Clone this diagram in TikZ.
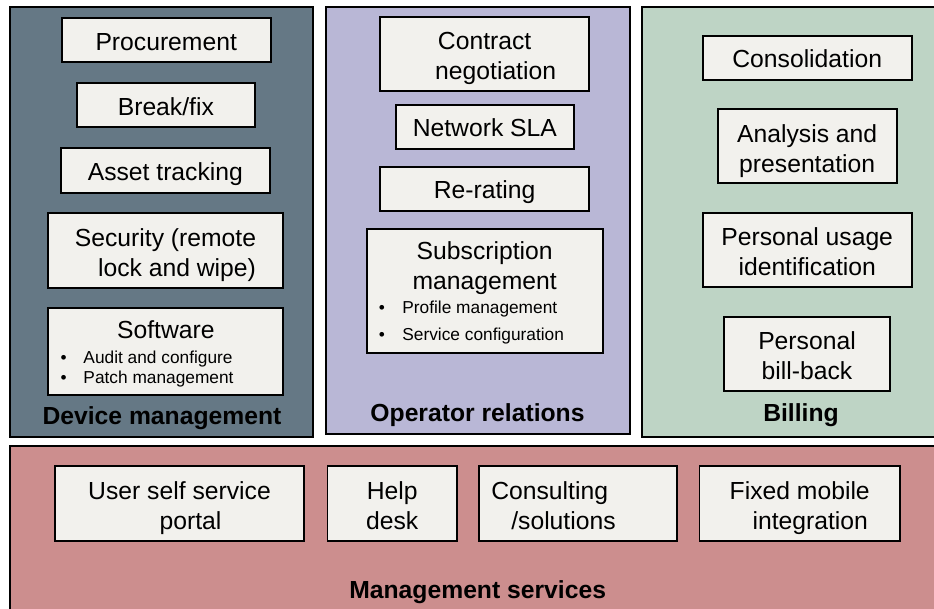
\documentclass[tikz,border=0pt]{standalone}
\usepackage{fontspec}
\setmainfont{Liberation Sans}
\definecolor{devcol}{HTML}{657885}
\definecolor{opcol}{HTML}{B9B7D6}
\definecolor{billcol}{HTML}{BED4C5}
\definecolor{mgmtcol}{HTML}{CC8E8E}
\definecolor{boxfill}{HTML}{F2F1ED}
\newcommand{\mybig}{\fontsize{24.7}{30}\selectfont}
\newcommand{\mysmall}{\fontsize{17.3}{20}\selectfont}
\newcommand{\mytop}{\rule{0pt}{28pt}}
\newcommand{\mybot}{\rule[-6pt]{0pt}{6pt}}
\begin{document}
\begin{tikzpicture}[x=1pt,y=-1pt,
  panel/.style={draw=black, line width=2pt, inner sep=0pt, rectangle},
  box/.style={draw=black, fill=boxfill, line width=1.8pt, inner sep=0pt, rectangle, align=center, font=\mybig},
  one/.style={text height=20pt, text depth=0pt},
  lbl/.style={font=\mybig\bfseries, anchor=base, inner sep=0pt},
  txt/.style={font=\mybig, inner sep=0pt, align=left},
  ttl/.style={font=\mybig, inner sep=0pt, anchor=base},
  bul/.style={font=\mysmall, inner sep=0pt, anchor=base west}]
\useasboundingbox (0,0) rectangle (934,609);
% panels
\node[panel, fill=devcol, minimum width=303pt, minimum height=429pt] (dev) at (161,222) {};
\node[panel, fill=opcol, minimum width=303.5pt, minimum height=426.5pt] (op) at (477.75,220.75) {};
\node[panel, fill=billcol, minimum width=298.5pt, minimum height=429.5pt] (bill) at (790.75,222.25) {};
\node[panel, fill=mgmtcol, minimum width=930.5pt, minimum height=169.5pt] (mgmt) at (474.75,530.25) {};
% device management
\node[box, one, minimum width=209pt, minimum height=44pt] (proc) at (166.2,40.3) {Procurement};
\node[box, one, minimum width=178.3pt, minimum height=44pt] (brk) at (165.85,105.3) {Break/fix};
\node[box, one, minimum width=209.3pt, minimum height=44.4pt] (asset) at (165.35,170.5) {Asset tracking};
\node[box, minimum width=235.6pt, minimum height=75pt] (sec) at (165.5,250.8) {\mytop Security (remote\\\hspace*{23pt}lock and wipe)\mybot};
\node[box, minimum width=235pt, minimum height=86.7pt] (sw) at (165.8,351.65) {};
\node[ttl] (swt) at (165.8,338.3) {Software};
\node[bul] (swb1) at (60.3,363.3) {\makebox[23pt][l]{\textbullet}Audit and configure};
\node[bul] (swb2) at (60.3,383.3) {\makebox[23pt][l]{\textbullet}Patch management};
\node[lbl] (devl) at (162,424) {Device management};
% operator relations
\node[box, minimum width=209.3pt, minimum height=73.4pt] (contr) at (484.65,54) {\mytop Contract\\\hspace*{22pt}negotiation\mybot};
\node[box, one, minimum width=178.3pt, minimum height=43.4pt] (sla) at (484.85,127) {Network SLA};
\node[box, one, minimum width=209.3pt, minimum height=43.4pt] (rerate) at (484.65,189) {Re-rating};
\node[box, minimum width=236pt, minimum height=124.6pt] (sub) at (484.7,291) {};
\node[ttl] (subt1) at (484.7,260) {Subscription};
\node[ttl] (subt2) at (484.7,290) {management};
\node[bul] (subb1) at (378.7,313.3) {\makebox[23.5pt][l]{\textbullet}Profile management};
\node[bul] (subb2) at (378.7,340.7) {\makebox[23.5pt][l]{\textbullet}Service configuration};
\node[lbl] (opl) at (477.5,421) {Operator relations};
% billing
\node[box, one, minimum width=209pt, minimum height=44pt] (cons) at (807.2,58) {Consolidation};
\node[box, minimum width=179pt, minimum height=74pt] (anal) at (807.2,146.3) {\mytop Analysis and\\presentation\mybot};
\node[box, minimum width=209pt, minimum height=73.4pt] (pui) at (807.2,250) {\mytop Personal usage\\identification\mybot};
\node[box, minimum width=166pt, minimum height=74pt] (pbb) at (807,353.7) {\mytop Personal\\bill-back\mybot};
\node[lbl] (billl) at (801,421) {Billing};
% management services
\node[box, minimum width=249pt, minimum height=75pt] (uss) at (179.5,503.5) {\mytop User self service\\\hspace*{22pt}portal\mybot};
\node[box, minimum width=129.5pt, minimum height=75pt] (help) at (392.25,503.5) {\mytop Help\\desk\mybot};
\node[box, minimum width=198pt, minimum height=75pt] (consult) at (578,503.5) {};
\node[txt, anchor=west] (consultt) at ([xshift=13pt]consult.west) {\mytop Consulting\\\hspace*{20pt}/solutions\mybot};
\node[box, minimum width=200.5pt, minimum height=75pt] (fmi) at (799.75,503.5) {\mytop Fixed mobile\\\hspace*{21pt}integration\mybot};
\node[lbl] (mgmtl) at (477.7,598) {Management services};
\end{tikzpicture}
\end{document}
